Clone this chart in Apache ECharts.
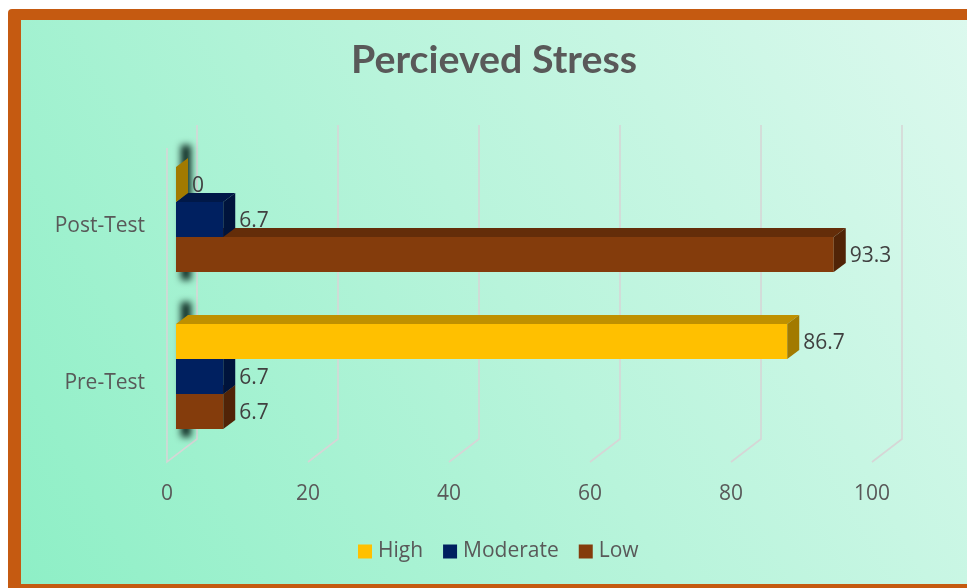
<!DOCTYPE html>
<html>
<head>
<meta charset="utf-8">
<script src="https://cdn.jsdelivr.net/npm/echarts@6/dist/echarts.min.js"></script>
<style>
  html, body { margin: 0; padding: 0; background: #ffffff; }
  #chart { width: 967px; height: 588px; }
</style>
</head>
<body>
<div id="chart"></div>
<script>
// Perceived stress levels before and after the intervention (percent of participants)
const categories = ['Pre-Test', 'Post-Test'];
const seriesNames = ['High', 'Moderate', 'Low'];
const highValues = [86.7, 0];
const moderateValues = [6.7, 6.7];
const lowValues = [6.7, 93.3];
const xTicks = [0, 20, 40, 60, 80, 100];
const chartTitle = 'Percieved Stress';

// front / top / side face colours for each series
const faceColors = {
  High: ['#FFC000', '#BF9000', '#A27A00'],
  Moderate: ['#002060', '#001848', '#00143C'],
  Low: ['#843C0C', '#642D09', '#512407']
};

// depth of the 3D floor in pixels and the slice of it that the bars occupy
const DEPTH_X = 30, DEPTH_Y = -23;
const BAR_FRONT = 0.3, BAR_BACK = 0.7;
const BAR_SHARE = 0.223;          // bar thickness as a share of the category band
const FONT = "'Open Sans', 'Noto Sans', sans-serif";
const TITLE_FONT = "bold 38px Lato, 'Open Sans', sans-serif";
const TITLE_WIDTH = 286;

const chart = echarts.init(document.getElementById('chart'));

// fit the bold title to its condensed width
const measureCtx = document.createElement('canvas').getContext('2d');
measureCtx.font = TITLE_FONT;
const titleScale = TITLE_WIDTH / measureCtx.measureText(chartTitle).width;

function gridRenderer(params, api) {
  const cs = params.coordSys;
  const v = api.value(0);
  const xf = api.coord([v, 0])[0];
  const top = cs.y, bottom = cs.y + cs.height;
  const pts = [];
  if (v === xTicks[0]) {
    pts.push([xf, top]);
  }
  pts.push([xf, bottom]);
  pts.push([xf + DEPTH_X, bottom + DEPTH_Y]);
  pts.push([xf + DEPTH_X, top + DEPTH_Y]);
  return {
    type: 'polyline',
    shape: { points: pts },
    style: { stroke: '#D6D6D6', lineWidth: 1.6, fill: null }
  };
}

// soft dark shadow behind the left end of each group of bars
function shadowRenderer(params, api) {
  const cat = api.value(1);
  const p0 = api.coord([0, cat]);
  const band = api.size([0, 1])[1];
  const h = band * BAR_SHARE;
  const top = p0[1] + DEPTH_Y * BAR_FRONT - 1.5 * h;
  const far = 3000;
  return {
    type: 'rect',
    shape: { x: p0[0] + 14 - far, y: top - 22, width: 10, height: 3 * h + 30 },
    style: {
      fill: '#000',
      shadowColor: 'rgba(12, 40, 32, 1)',
      shadowBlur: 7,
      shadowOffsetX: far,
      shadowOffsetY: 0
    }
  };
}

function barRenderer(slot, colors) {
  return function (params, api) {
    const val = api.value(0);
    const cat = api.value(1);
    const p0 = api.coord([0, cat]);
    const p1 = api.coord([val, cat]);
    const band = api.size([0, 1])[1];
    const h = band * BAR_SHARE;
    const fx = DEPTH_X * BAR_FRONT, fy = DEPTH_Y * BAR_FRONT;
    const dx = DEPTH_X * (BAR_BACK - BAR_FRONT), dy = DEPTH_Y * (BAR_BACK - BAR_FRONT);
    const xl = p0[0] + fx, xr = p1[0] + fx;
    const yt = p0[1] + fy - 1.5 * h + slot * h;
    const yb = yt + h;
    return {
      type: 'group',
      children: [
        {
          type: 'polygon',
          shape: { points: [[xl, yt], [xr, yt], [xr + dx, yt + dy], [xl + dx, yt + dy]] },
          style: { fill: colors[1] }
        },
        {
          type: 'rect',
          shape: { x: xl, y: yt, width: xr - xl, height: h },
          style: { fill: colors[0] }
        },
        {
          type: 'polygon',
          shape: { points: [[xr, yt], [xr + dx, yt + dy], [xr + dx, yb + dy], [xr, yb]] },
          style: { fill: colors[2] }
        },
        {
          type: 'text',
          style: {
            x: xr + dx + 4,
            y: (yt + yb) / 2 + 1,
            text: String(val),
            fill: '#404040',
            font: '21px ' + FONT,
            verticalAlign: 'middle',
            align: 'left'
          }
        }
      ]
    };
  };
}

const valueSets = { High: highValues, Moderate: moderateValues, Low: lowValues };

const barSeries = seriesNames.map(function (name, slot) {
  return {
    name: name,
    type: 'custom',
    silent: true,
    z: 10 - slot,
    itemStyle: { color: faceColors[name][0] },
    encode: { x: 0, y: 1 },
    renderItem: barRenderer(slot, faceColors[name]),
    data: valueSets[name].map(function (v, i) { return [v, i]; })
  };
});

chart.setOption({
  animation: false,
  backgroundColor: '#ffffff',
  graphic: {
    elements: [
      {
        type: 'rect', z: -20, silent: true,
        shape: { x: 8, y: 9, width: 1000, height: 600, r: 4 },
        style: { fill: '#C55A11' }
      },
      {
        type: 'rect', z: -19, silent: true,
        shape: { x: 21, y: 20, width: 980, height: 564 },
        style: {
          fill: new echarts.graphic.LinearGradient(0, 1, 1, 0, [
            { offset: 0, color: '#8EEFC6' },
            { offset: 0.5, color: '#B8F4DB' },
            { offset: 1, color: '#DEF9EF' }
          ])
        }
      },
      {
        type: 'text', z: 5, silent: true,
        x: 494, y: 61,
        scaleX: titleScale,
        style: {
          text: chartTitle,
          font: TITLE_FONT,
          fill: '#595959',
          align: 'center',
          verticalAlign: 'middle'
        }
      }
    ]
  },
  legend: {
    data: seriesNames,
    left: 358,
    top: 541,
    padding: 0,
    icon: 'rect',
    itemWidth: 14,
    itemHeight: 14,
    itemGap: 20,
    textStyle: { fontFamily: FONT, fontSize: 21, color: '#595959', padding: [0, 0, 0, 1] }
  },
  grid: { left: 167, right: 95, top: 148, bottom: 126, containLabel: false },
  xAxis: {
    type: 'value',
    min: 0,
    max: 100,
    interval: 20,
    axisLine: { show: false },
    axisTick: { show: false },
    splitLine: { show: false },
    axisLabel: { fontFamily: FONT, fontSize: 21, color: '#595959', margin: 22 }
  },
  yAxis: {
    type: 'category',
    data: categories,
    axisLine: { show: false },
    axisTick: { show: false },
    splitLine: { show: false },
    axisLabel: { fontFamily: FONT, fontSize: 21, color: '#595959', margin: 22 }
  },
  series: [
    {
      name: 'grid',
      type: 'custom',
      silent: true,
      z: 1,
      encode: { x: 0 },
      renderItem: gridRenderer,
      data: xTicks.map(function (v) { return [v, 0]; })
    },
    {
      name: 'shadow',
      type: 'custom',
      silent: true,
      z: 2,
      encode: { x: 0, y: 1 },
      renderItem: shadowRenderer,
      data: categories.map(function (c, i) { return [0, i]; })
    }
  ].concat(barSeries)
});
</script>
</body>
</html>
